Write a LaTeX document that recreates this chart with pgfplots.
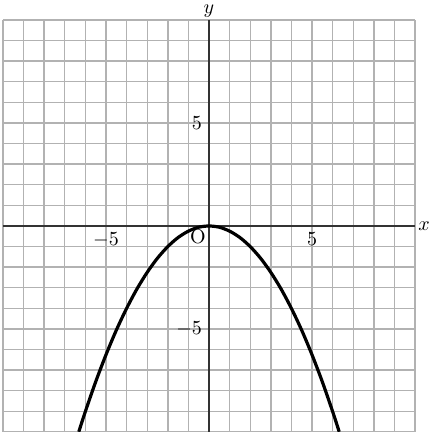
\documentclass[border=0pt]{standalone}
\usepackage{pgfplots}
\pgfplotsset{compat=1.18}
\begin{document}
\begin{tikzpicture}
\begin{axis}[
  scale only axis,
  x=10.3pt, y=10.3pt,
  xmin=-10, xmax=10, ymin=-10, ymax=10,
  axis lines=middle,
  axis line style={-, black!80, line width=0.6pt},
  xtick={-10,...,10}, ytick={-10,...,10},
  xticklabels={,,,,,$-5$,,,,,,,,,,$5$,,,,,},
  yticklabels={,,,,,$-5$,,,,,,,,,,$5$,,,,,},
  grid=major,
  major grid style={gray!60, line width=0.7pt},
  major tick length=0pt,
  clip=false,
]
\addplot[black, line width=1.6pt, smooth] coordinates {
(-6.32,-9.99) (-6,-9) (-5.5,-7.56) (-5,-6.25) (-4.5,-5.06) (-4,-4)
(-3.5,-3.06) (-3,-2.25) (-2.5,-1.56) (-2,-1) (-1.5,-0.56) (-1,-0.25)
(-0.5,-0.06) (0,0) (0.5,-0.06) (1,-0.25) (1.5,-0.56) (2,-1)
(2.5,-1.56) (3,-2.25) (3.5,-3.06) (4,-4) (4.5,-5.06) (5,-6.25)
(5.5,-7.56) (6,-9) (6.32,-9.99)
};
\node[anchor=west, inner sep=0pt, xshift=1.5pt] at (axis cs:10,0) {$x$};
\node[anchor=south, inner sep=0pt, yshift=1.2pt] at (axis cs:0,10) {$y$};
\node[anchor=north east, inner sep=1.5pt] at (axis cs:0,0) {O};
\end{axis}
\pgfresetboundingbox
\path (-1.5pt,0pt) rectangle (215.5pt,216pt);
\end{tikzpicture}
\end{document}
